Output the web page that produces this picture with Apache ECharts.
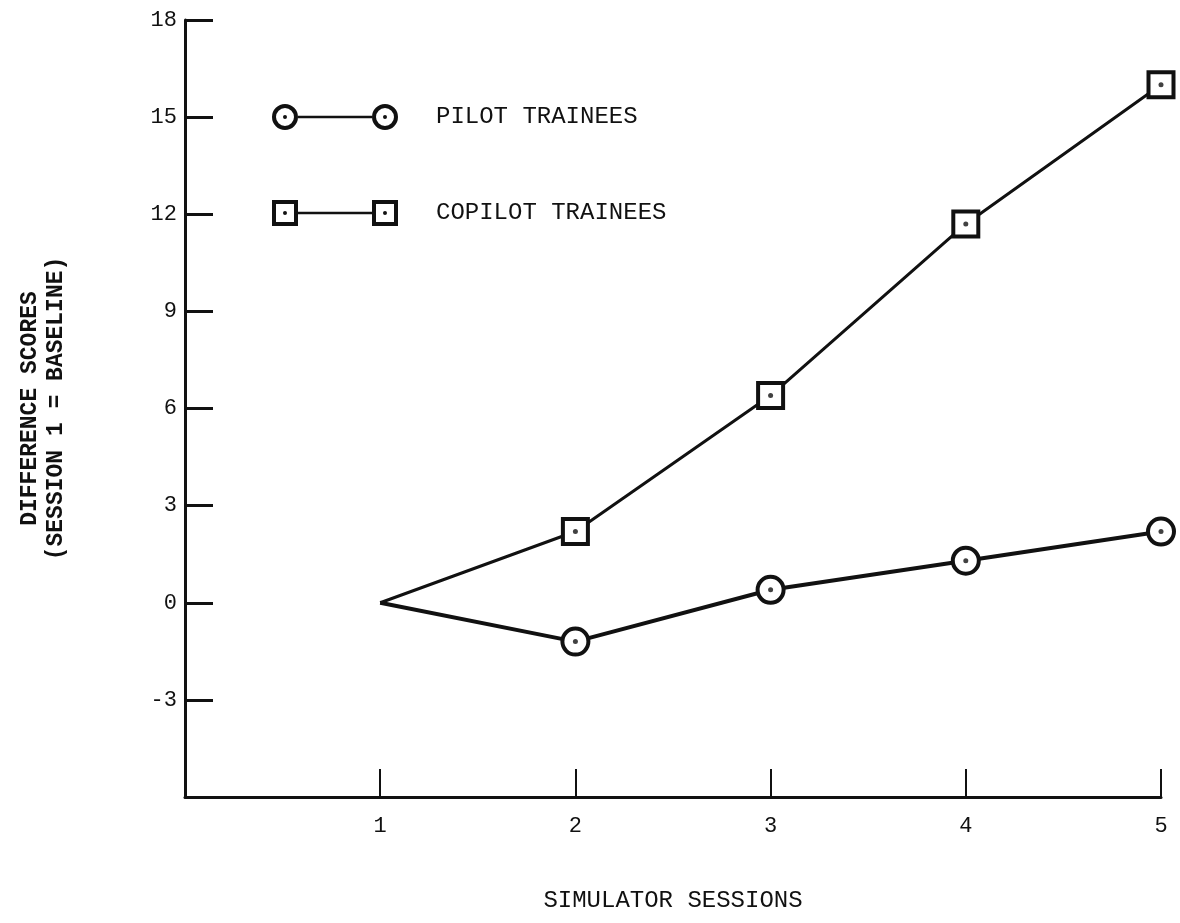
<!DOCTYPE html>
<html>
<head>
<meta charset="utf-8">
<script src="https://cdn.jsdelivr.net/npm/echarts@6/dist/echarts.min.js"></script>
<style>
  html, body { margin: 0; padding: 0; background: #fff; }
  #chart { width: 1180px; height: 923px; }
</style>
</head>
<body>
<div id="chart"></div>
<script>
// simulator sessions and difference scores (session 1 = baseline)
const sessions = [1, 2, 3, 4, 5];
const pilotScores = [0, -1.2, 0.4, 1.3, 2.2];
const copilotScores = [0, 2.2, 6.4, 11.7, 16.0];
const yTicks = [-6, 18, 3];   // min, max, step

const ink = '#111';
const mono = '"Liberation Mono", "DejaVu Sans Mono", monospace';

// legend icons: marker - line - marker
const ringIcon = 'path://M0,13A13,13,0,1,1,26,13A13,13,0,1,1,0,13Z' +
  'M4,13A9,9,0,1,0,22,13A9,9,0,1,0,4,13Z' +
  'M11,13A2,2,0,1,1,15,13A2,2,0,1,1,11,13Z' +
  'M26,11.8L100,11.8L100,14.2L26,14.2Z' +
  'M100,13A13,13,0,1,1,126,13A13,13,0,1,1,100,13Z' +
  'M104,13A9,9,0,1,0,122,13A9,9,0,1,0,104,13Z' +
  'M111,13A2,2,0,1,1,115,13A2,2,0,1,1,111,13Z';
const boxIcon = 'path://M0,0L26,0L26,26L0,26Z' +
  'M4,4L4,22L22,22L22,4Z' +
  'M11,13A2,2,0,1,1,15,13A2,2,0,1,1,11,13Z' +
  'M26,11.8L100,11.8L100,14.2L26,14.2Z' +
  'M100,0L126,0L126,26L100,26Z' +
  'M104,4L104,22L122,22L122,4Z' +
  'M111,13A2,2,0,1,1,115,13A2,2,0,1,1,111,13Z';

function lineData(values) {
  // session 1 is the baseline: no marker there
  return sessions.map((s, i) => i === 0 ? { value: [s, values[i]], symbol: 'none' } : [s, values[i]]);
}
function dotData(values) {
  return sessions.slice(1).map((s, i) => [s, values[i + 1]]);
}

let chartDom = document.getElementById('chart');
let myChart = echarts.init(chartDom);
let option;

option = {
  animation: false,
  backgroundColor: '#fff',
  grid: { left: 185, right: 19, top: 20, bottom: 126, containLabel: false },
  legend: {
    orient: 'vertical',
    left: 267,
    top: 99,
    itemWidth: 126,
    itemHeight: 26,
    itemGap: 70,
    selectedMode: false,
    itemStyle: { color: ink, borderWidth: 0 },
    textStyle: { fontFamily: mono, fontSize: 24, color: ink, padding: [0, 0, 0, 33] },
    data: [
      { name: 'PILOT TRAINEES', icon: ringIcon },
      { name: 'COPILOT TRAINEES', icon: boxIcon }
    ]
  },
  xAxis: {
    type: 'value',
    min: 0,
    max: 5,
    interval: 1,
    name: 'SIMULATOR SESSIONS',
    nameLocation: 'middle',
    nameGap: 92,
    nameTextStyle: { fontFamily: mono, fontSize: 24, color: ink },
    axisLine: { onZero: false, lineStyle: { color: ink, width: 3 } },
    axisTick: { inside: true, length: 28, lineStyle: { color: ink, width: 2 } },
    axisLabel: {
      fontFamily: mono, fontSize: 22, color: ink, margin: 18,
      formatter: v => v === 0 ? '' : String(v)
    },
    splitLine: { show: false }
  },
  yAxis: {
    type: 'value',
    min: yTicks[0],
    max: yTicks[1],
    interval: yTicks[2],
    name: 'DIFFERENCE SCORES\n(SESSION 1 = BASELINE)',
    nameLocation: 'middle',
    nameRotate: 90,
    nameGap: 116,
    nameTextStyle: { fontFamily: mono, fontSize: 23, fontWeight: 'bold', color: ink, lineHeight: 26 },
    axisLine: { onZero: false, lineStyle: { color: ink, width: 3 } },
    axisTick: { inside: true, length: 28, lineStyle: { color: ink, width: 3 } },
    axisLabel: {
      fontFamily: mono, fontSize: 22, color: ink, margin: 8,
      formatter: v => v === yTicks[0] ? '' : String(v)
    },
    splitLine: { show: false }
  },
  series: [
    {
      name: 'PILOT TRAINEES',
      type: 'line',
      data: lineData(pilotScores),
      symbol: 'circle',
      symbolSize: 26,
      lineStyle: { color: ink, width: 4 },
      itemStyle: { color: '#fff', borderColor: ink, borderWidth: 4 },
      z: 3
    },
    {
      name: 'COPILOT TRAINEES',
      type: 'line',
      data: lineData(copilotScores),
      symbol: 'rect',
      symbolSize: 25,
      lineStyle: { color: ink, width: 3 },
      itemStyle: { color: '#fff', borderColor: ink, borderWidth: 4 },
      z: 3
    },
    {
      name: 'pilot dots',
      type: 'scatter',
      data: dotData(pilotScores),
      symbolSize: 5,
      itemStyle: { color: ink },
      silent: true,
      z: 5
    },
    {
      name: 'copilot dots',
      type: 'scatter',
      data: dotData(copilotScores),
      symbolSize: 5,
      itemStyle: { color: ink },
      silent: true,
      z: 5
    }
  ]
};
myChart.setOption(option);
</script>
</body>
</html>
